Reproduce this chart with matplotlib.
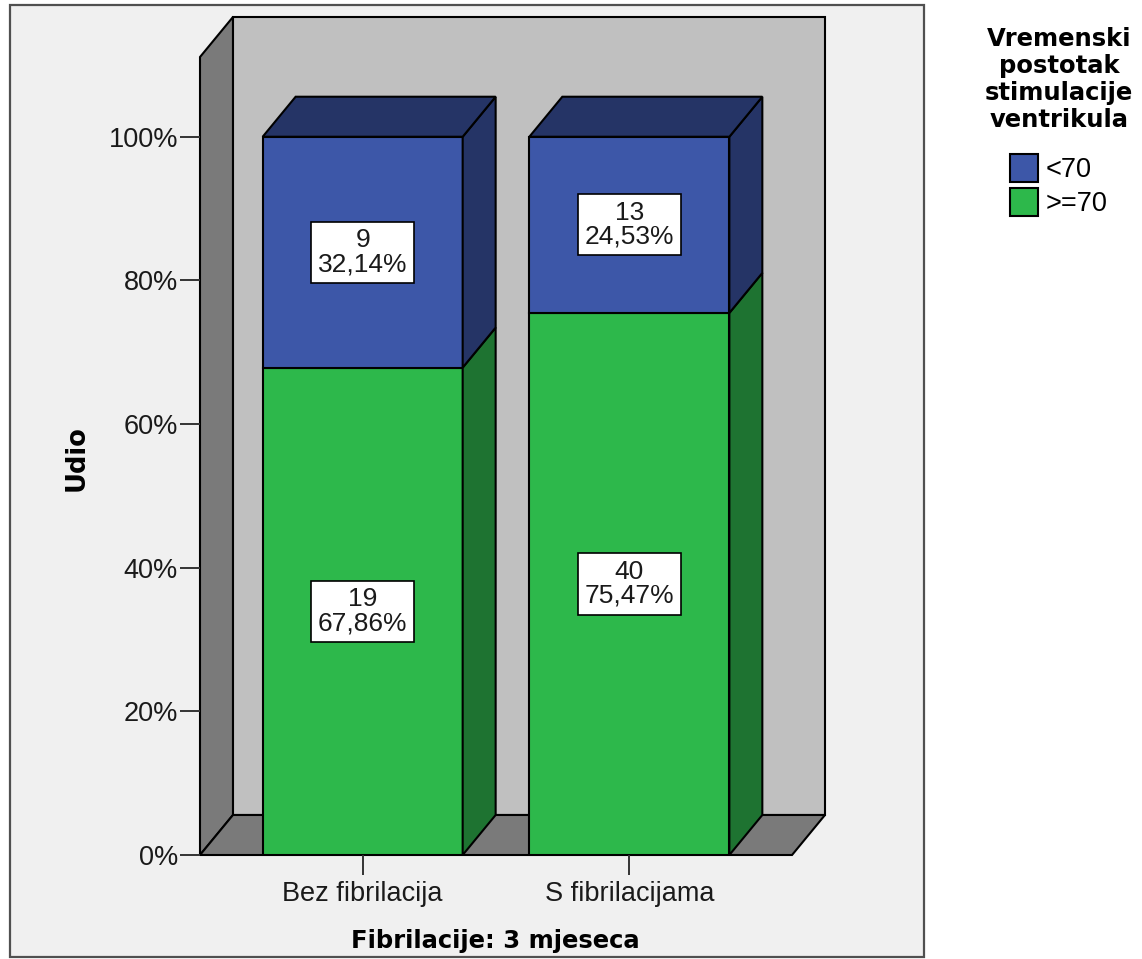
import matplotlib
matplotlib.use("Agg")
import matplotlib.pyplot as plt
from matplotlib.patches import Polygon, Rectangle, Patch

# data
categories = ["Bez fibrilacija", "S fibrilacijama"]
series = ["<70", ">=70"]
count_low = [9, 13]
count_high = [19, 40]
pct_low = [32.14, 24.53]
pct_high = [67.86, 75.47]

BLUE = "#3d57a8"
BLUE_DARK = "#253466"
GREEN = "#2db84b"
GREEN_DARK = "#1e7331"
WALL = "#c0c0c0"
WALL_DARK = "#7a7a7a"

plt.rcParams['font.family'] = ['Liberation Sans', 'DejaVu Sans']

W, H = 1142, 959
fig = plt.figure(figsize=(W / 100, H / 100), dpi=100)
fig.patch.set_facecolor('white')

# grey panel behind the chart
frame = Rectangle((10 / W, 1 - 957 / H), (924 - 10) / W, (957 - 5) / H,
                  transform=fig.transFigure, facecolor='#f0f0f0',
                  edgecolor='#505050', lw=1.6, zorder=-1)
fig.patches.append(frame)

ax = fig.add_axes([200 / W, 1 - 855 / H, 625 / W, 838 / H])
ax.set_facecolor('none')
for s in ax.spines.values():
    s.set_visible(False)

# 3d box: front plane spans x0..x1, 0..ymax ; depth offset dx, dy
x0, x1 = -0.61, 1.61
ymax = 111.1
dx, dy = 0.1236, 5.57
ax.set_xlim(x0, x1 + dx)
ax.set_ylim(0, ymax + dy)

back = Polygon([(x0 + dx, dy), (x1 + dx, dy), (x1 + dx, ymax + dy), (x0 + dx, ymax + dy)],
               closed=True, fc=WALL, ec='black', lw=1.5, clip_on=False, zorder=1)
left = Polygon([(x0, 0), (x0 + dx, dy), (x0 + dx, ymax + dy), (x0, ymax)],
               closed=True, fc=WALL_DARK, ec='black', lw=1.5, clip_on=False, zorder=1)
floor = Polygon([(x0, 0), (x1, 0), (x1 + dx, dy), (x0 + dx, dy)],
                closed=True, fc=WALL_DARK, ec='black', lw=1.5, clip_on=False, zorder=1)
for p in (back, left, floor):
    ax.add_patch(p)

xs = list(range(len(categories)))
bw = 0.75
ax.bar(xs, pct_high, width=bw, color=GREEN, edgecolor='black', lw=1.5, zorder=3)
ax.bar(xs, pct_low, width=bw, bottom=pct_high, color=BLUE, edgecolor='black', lw=1.5, zorder=3)

for i in xs:
    l, r = i - bw / 2, i + bw / 2
    top = pct_high[i] + pct_low[i]
    for b, t, c in ((0, pct_high[i], GREEN_DARK), (pct_high[i], top, BLUE_DARK)):
        ax.add_patch(Polygon([(r, b), (r + dx, b + dy), (r + dx, t + dy), (r, t)],
                             closed=True, fc=c, ec='black', lw=1.5, zorder=3, clip_on=False))
    ax.add_patch(Polygon([(l, top), (r, top), (r + dx, top + dy), (l + dx, top + dy)],
                         closed=True, fc=BLUE_DARK, ec='black', lw=1.5, zorder=3, clip_on=False))

    box = dict(boxstyle='square,pad=0.25', fc='white', ec='black', lw=1.2)
    lab_hi = f"{count_high[i]}\n{pct_high[i]:.2f}%".replace('.', ',')
    lab_lo = f"{count_low[i]}\n{pct_low[i]:.2f}%".replace('.', ',')
    ax.text(i, pct_high[i] / 2, lab_hi, ha='center', va='center', fontsize=19,
            linespacing=1.0, bbox=box, zorder=5, color='#1a1a1a')
    ax.text(i, pct_high[i] + pct_low[i] / 2, lab_lo, ha='center', va='center', fontsize=19,
            linespacing=1.0, bbox=box, zorder=5, color='#1a1a1a')

ax.set_yticks(range(0, 101, 20))
ax.set_yticklabels([f"{v}%" for v in range(0, 101, 20)])
ax.set_xticks(xs)
ax.set_xticklabels(categories)
ax.tick_params(axis='y', length=14.4, width=1.4, color='#333333', pad=1.5,
               labelsize=19.5, labelcolor='#1a1a1a')
ax.tick_params(axis='x', length=14.4, width=1.4, color='#333333', pad=4,
               labelsize=19.5, labelcolor='#1a1a1a')

ax.set_ylabel("Udio", fontsize=18.5, fontweight='bold', family='DejaVu Sans')
ax.yaxis.set_label_coords(-0.176, 0.474)
ax.set_xlabel("Fibrilacije: 3 mjeseca", fontsize=17.5, fontweight='bold', family='DejaVu Sans')
ax.xaxis.set_label_coords(0.472, -0.088)

# legend
fig.text(1059 / W, 1 - 27 / H, "Vremenski\npostotak\nstimulacije\nventrikula",
         ha='center', va='top', fontsize=17.5, fontweight='bold', family='DejaVu Sans',
         linespacing=1.15)
handles = [Patch(fc=BLUE, ec='black', lw=1.5, label=series[0]),
           Patch(fc=GREEN, ec='black', lw=1.5, label=series[1])]
fig.legend(handles=handles, loc='upper center', bbox_to_anchor=(1059 / W, 1 - 154 / H),
           frameon=False, fontsize=19.5, handlelength=1.0, handleheight=1.2,
           handletextpad=0.3, labelspacing=0.2, borderpad=0, borderaxespad=0)

fig.savefig("out.png", dpi=100, facecolor='white')
